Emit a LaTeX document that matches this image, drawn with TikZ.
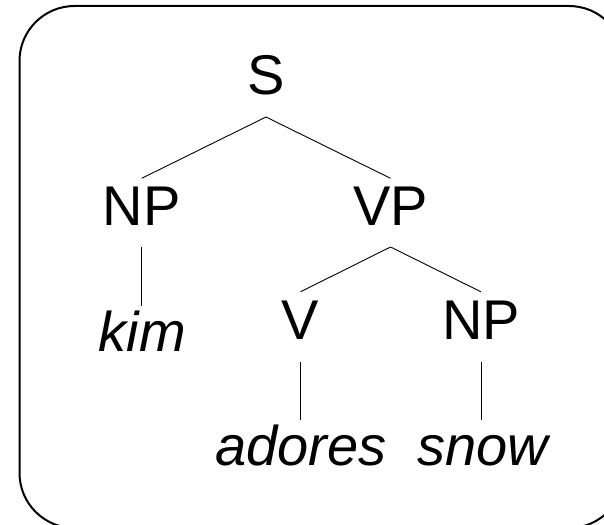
\documentclass[tikz,border=0pt]{standalone}
\usepackage{fontspec}
\setmainfont{Liberation Sans}
\usetikzlibrary{calc}
\begin{document}
\begin{tikzpicture}[x=1pt,y=-1pt,
  cat/.style={anchor=base,inner sep=0pt,font=\fontsize{56}{60}\selectfont},
  word/.style={cat,font=\fontsize{56}{60}\selectfont\itshape},
  branch/.style={line width=0.9pt},
  frame/.style={line width=2pt,rounded corners=55pt}]
\useasboundingbox (0,0) rectangle (604,524);
\clip (0,0) rectangle (604,524);
\draw[frame] (19.5,6) rectangle (624,528);
\node[cat] (S) at (266,95) {S};
\node[cat] (NP1) at (141.7,225) {NP};
\node[cat] (VP) at (390.5,225) {VP};
\node[word] (kim) at (142.5,351.7) {kim};
\node[cat] (V) at (300.5,339.3) {V};
\node[cat] (NP2) at (481,339.3) {NP};
\node[word] (adores) at (301,465) {adores};
\node[word] (snow) at (483,465) {snow};
\draw[branch] ($(S.base)+(0,22)$) -- ($(NP1.base)+(0,-46.7)$);
\draw[branch] ($(S.base)+(0,22)$) -- ($(VP.base)+(0,-46.7)$);
\draw[branch] ($(NP1.base)+(0,22)$) -- ($(NP1.base |- kim.base)+(0,-46)$);
\draw[branch] ($(VP.base)+(0,22)$) -- ($(V.base)+(0,-47.5)$);
\draw[branch] ($(VP.base)+(0,22)$) -- ($(NP2.base)+(0,-47.5)$);
\draw[branch] ($(V.base)+(0,22.4)$) -- ($(V.base |- adores.base)+(0,-45)$);
\draw[branch] ($(NP2.base)+(0,22.4)$) -- ($(NP2.base |- snow.base)+(0,-45)$);
\end{tikzpicture}
\end{document}
